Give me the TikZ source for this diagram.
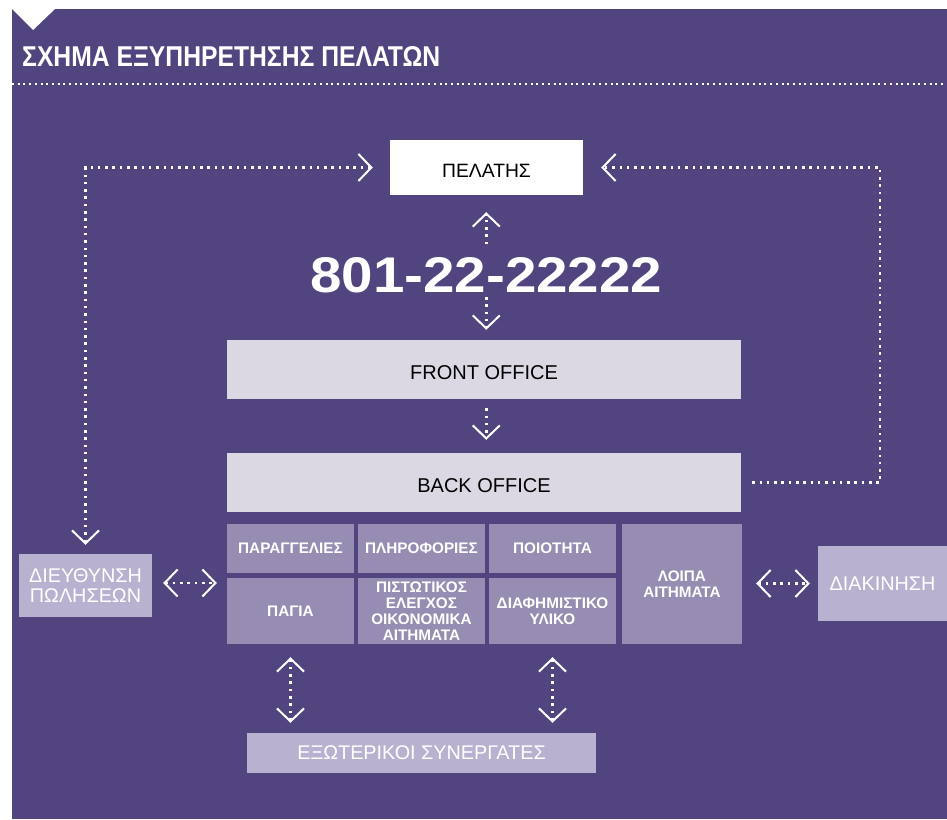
\documentclass[tikz,border=0pt]{standalone}
\usepackage{fontspec}
\usepackage{graphicx}
\setmainfont{Liberation Sans}
\usetikzlibrary{arrows.meta}
\definecolor{bgp}{HTML}{52457F}
\definecolor{lightbox}{HTML}{DBD8E4}
\definecolor{midbox}{HTML}{978CB1}
\definecolor{softbox}{HTML}{B8B1CF}
\tikzset{
  chev/.tip={Straight Barb[length=13pt,width=27pt,line width=2pt]},
  lbox/.style={fill=lightbox, text=black, font=\fontsize{20}{22}\selectfont, inner sep=0pt, text height=19pt, text depth=0pt},
  wbox/.style={fill=white, text=black, font=\fontsize{19.3}{22}\selectfont, inner sep=0pt, text height=19pt, text depth=0pt},
  mbox/.style={fill=midbox, text=white, font=\bfseries\fontsize{15.3}{16}\selectfont, align=center, inner sep=0pt},
  sbox/.style={fill=softbox, text=white, font=\fontsize{19.8}{20}\selectfont, align=center, inner sep=0pt},
  con/.style={white, line width=2.5pt, dash pattern=on 2.5pt off 4.8pt},
}
\begin{document}
\begin{tikzpicture}[x=1pt,y=-1pt]
\useasboundingbox (0,0) rectangle (947,819);
\fill[white] (0,0) rectangle (947,819);
\fill[bgp] (12,9) rectangle (947,819);
\fill[white] (12,9) -- (55,9) -- (33,30) -- cycle;
% title
\node[inner sep=0pt, text=white, anchor=south west] (title) at (22,67)
  {\resizebox{418pt}{20pt}{\bfseries ΣΧΗΜΑ ΕΞΥΠΗΡΕΤΗΣΗΣ ΠΕΛΑΤΩΝ}};
\draw[white, line width=2pt, dash pattern=on 2pt off 3.7pt] (12,84) -- (947,84);
% nodes
\node[wbox, minimum width=193pt, minimum height=55pt] (pel) at (486.5,167.5) {ΠΕΛΑΤΗΣ};
\node[inner sep=0pt, text=white, anchor=south west] (phone) at (310,293)
  {\resizebox{352pt}{35pt}{\bfseries 801-22-22222}};
\node[lbox, minimum width=514pt, minimum height=59pt] (fo) at (484,369.5) {FRONT OFFICE};
\node[lbox, minimum width=514pt, minimum height=59pt] (bo) at (484,482.5) {BACK OFFICE};
\node[mbox, minimum width=127pt, minimum height=49pt] (par) at (290.5,548.5) {ΠΑΡΑΓΓΕΛΙΕΣ};
\node[mbox, minimum width=127pt, minimum height=49pt] (plh) at (421.5,548.5) {ΠΛΗΡΟΦΟΡΙΕΣ};
\node[mbox, minimum width=127pt, minimum height=49pt] (poi) at (552.5,548.5) {ΠΟΙΟΤΗΤΑ};
\node[mbox, minimum width=127pt, minimum height=66pt] (pag) at (290.5,611) {ΠΑΓΙΑ};
\node[mbox, minimum width=127pt, minimum height=66pt] (pis) at (421.5,611) {ΠΙΣΤΩΤΙΚΟΣ\\ΕΛΕΓΧΟΣ\\ΟΙΚΟΝΟΜΙΚΑ\\ΑΙΤΗΜΑΤΑ};
\node[mbox, minimum width=127pt, minimum height=66pt] (dia) at (552.5,611) {ΔΙΑΦΗΜΙΣΤΙΚΟ\\ΥΛΙΚΟ};
\node[mbox, minimum width=120pt, minimum height=120pt] (loi) at (682,584) {ΛΟΙΠΑ\\ΑΙΤΗΜΑΤΑ};
\node[sbox, minimum width=133pt, minimum height=63pt] (dieu) at (85.5,585.5) {ΔΙΕΥΘΥΝΣΗ\\ΠΩΛΗΣΕΩΝ};
\node[sbox, minimum width=129pt, minimum height=75pt] (diak) at (882.5,583.5) {ΔΙΑΚΙΝΗΣΗ};
\node[sbox, minimum width=349pt, minimum height=40pt] (ext) at (421.5,753) {ΕΞΩΤΕΡΙΚΟΙ ΣΥΝΕΡΓΑΤΕΣ};
\coordinate (rx) at (880,0);
% connectors
\draw[con, -chev, shorten <=13pt, shorten >=17pt] (phone.north) -- (phone.north |- pel.south);
\draw[con, -chev, shorten <=4pt, shorten >=10pt] (phone.south) -- (phone.south |- fo.north);
\draw[con, -chev, shorten <=9pt, shorten >=13pt] (phone.south |- fo.south) -- (phone.south |- bo.north);
\draw[con, chev-chev, shorten <=17pt, shorten >=9pt] (pel.west) -| (dieu.north);
\draw[con, -chev, shorten <=11pt, shorten >=18pt] (bo.east) -- (bo.east -| rx) |- (pel.east);
\draw[con, chev-chev, shorten <=11pt, shorten >=10pt] ([yshift=2.5pt]dieu.east) coordinate (la) -- (la -| par.west);
\draw[con, chev-chev, shorten <=14pt, shorten >=8pt] (loi.east |- diak.west) -- (diak.west);
\draw[con, chev-chev, shorten <=13pt, shorten >=10pt] (pag.south) -- (pag.south |- ext.north);
\draw[con, chev-chev, shorten <=13pt, shorten >=10pt] (dia.south) -- (dia.south |- ext.north);
\end{tikzpicture}
\end{document}
